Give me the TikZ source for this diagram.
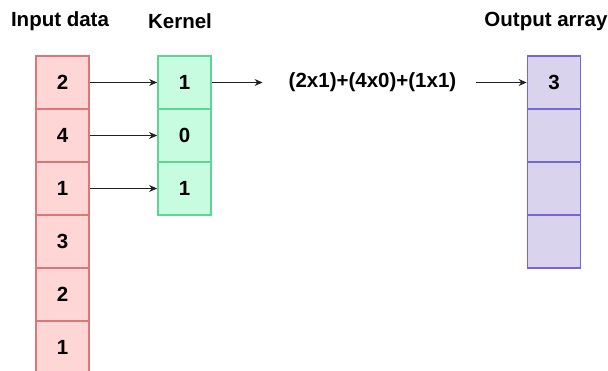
\documentclass[tikz,border=0pt]{standalone}
\usepackage{fontspec}
\setmainfont{Liberation Sans}
\usetikzlibrary{arrows.meta}
\definecolor{inFill}{HTML}{FFD6D6}
\definecolor{inLine}{HTML}{D9777A}
\definecolor{kFill}{HTML}{C8FCE0}
\definecolor{kLine}{HTML}{5CD692}
\definecolor{oFill}{HTML}{DAD3EE}
\definecolor{oLine}{HTML}{7667D8}
\definecolor{arrGray}{HTML}{222222}
\tikzset{
  cell/.style={minimum width=53pt, minimum height=53pt, inner sep=0pt, line width=1.8pt,
    font=\fontsize{20.5}{24}\selectfont\bfseries},
  incell/.style={cell, draw=inLine, fill=inFill},
  kcell/.style={cell, draw=kLine, fill=kFill},
  ocell/.style={cell, draw=oLine, fill=oFill},
  title/.style={inner sep=0pt, font=\fontsize{20.5}{24}\selectfont\bfseries},
  arr/.style={draw=arrGray, line width=0.9pt, -{Stealth[length=8pt,width=7pt]}}
}
\begin{document}
\begin{tikzpicture}[x=1pt, y=-1pt]
  \useasboundingbox (0,0) rectangle (608,371);
  \clip (0,0) rectangle (608,371);

  % column titles
  \node[title] (tin) at (60,21) {Input data};
  \node[title] (tk) at (180,21) {Kernel};
  \node[title] (to) at (546,21) {Output array};

  % input data column
  \node[incell] (in1) at (62.5,82.5) {2};
  \node[incell] (in2) at (62.5,135.5) {4};
  \node[incell] (in3) at (62.5,188.5) {1};
  \node[incell] (in4) at (62.5,241.5) {3};
  \node[incell] (in5) at (62.5,294.5) {2};
  \node[incell] (in6) at (62.5,347.5) {1};

  % kernel column
  \node[kcell] (k1) at (184.5,82.5) {1};
  \node[kcell] (k2) at (184.5,135.5) {0};
  \node[kcell] (k3) at (184.5,188.5) {1};

  % output column
  \node[ocell] (o1) at (554,82.5) {3};
  \node[ocell] (o2) at (554,135.5) {};
  \node[ocell] (o3) at (554,188.5) {};
  \node[ocell] (o4) at (554,241.5) {};

  % weighted sum
  \node[title] (f) at (372.5,82.5) {(2x1)+(4x0)+(1x1)};

  % connectors
  \draw[arr] (in1.east) -- (k1.west);
  \draw[arr] (in2.east) -- (k2.west);
  \draw[arr] (in3.east) -- (k3.west);
  \draw[arr, shorten >=26pt] (k1.east) -- (f.west);
  \draw[arr, shorten <=20pt] (f.east) -- (o1.west);
\end{tikzpicture}
\end{document}
